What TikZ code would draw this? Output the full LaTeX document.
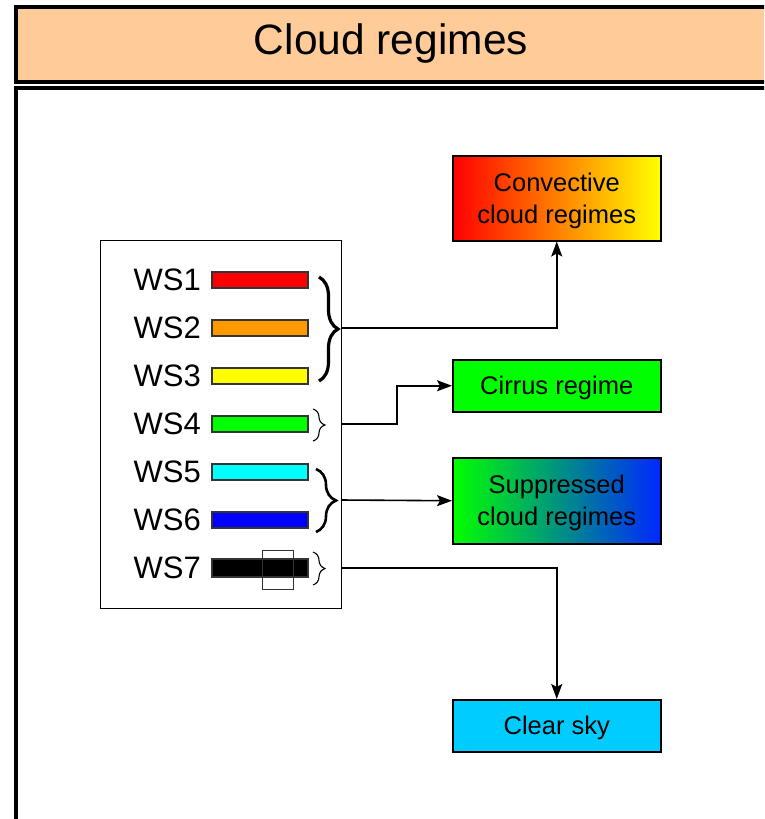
\documentclass[tikz,border=0pt]{standalone}
\usepackage{fontspec}
\setmainfont{Liberation Sans}
\usetikzlibrary{arrows.meta,decorations.pathreplacing,calc}
\begin{document}
\begin{tikzpicture}[x=1pt,y=-1pt,
  bar/.style={draw=black!80,line width=1.2pt,minimum width=96pt,minimum height=16pt,inner sep=0pt},
  wslabel/.style={anchor=east,font=\fontsize{31}{31}\selectfont,inner sep=0pt},
  regime/.style={draw=black,line width=1.5pt,minimum width=208pt,inner sep=0pt,align=center,text depth=0pt,font=\fontsize{25.5}{32}\selectfont},
  conn/.style={line width=1.6pt,-{Stealth[length=15pt,width=11pt,inset=3pt]}},
  bigbrace/.style={decorate,decoration={brace,amplitude=#1}},
]
\useasboundingbox (0,0) rectangle (764,819);
\clip (0,0) rectangle (764,819);
\fill[white] (0,0) rectangle (764,819);
% header
\node[draw=black,line width=3.5pt,fill={rgb,255:red,255;green,204;blue,153},minimum width=756pt,minimum height=75pt,anchor=north west,inner sep=0pt] (header) at (14,5) {};
\node[font=\fontsize{42.5}{42.5}\selectfont] (title) at (391,44) {Cloud regimes};
% main frame
\node[draw=black,line width=3.5pt,minimum width=780pt,minimum height=760pt,anchor=north west,inner sep=0pt] (frame) at (14,86) {};
% legend box
\node[draw=black,line width=1.2pt,minimum width=241pt,minimum height=368pt,anchor=north west,inner sep=0pt] (legend) at (100,240) {};
% bars
\node[bar,fill={rgb,255:red,255;green,0;blue,0}] (b1) at (260,280) {};
\node[bar,fill={rgb,255:red,255;green,153;blue,0}] (b2) at (260,328) {};
\node[bar,fill={rgb,255:red,255;green,255;blue,0}] (b3) at (260,376) {};
\node[bar,fill={rgb,255:red,0;green,255;blue,0}] (b4) at (260,424) {};
\node[bar,fill={rgb,255:red,0;green,255;blue,255}] (b5) at (260,472) {};
\node[bar,fill={rgb,255:red,0;green,0;blue,255}] (b6) at (260,520) {};
\node[bar,fill=black,minimum height=18pt] (b7) at (260,568) {};
\node[draw=black!80,line width=0.8pt,minimum width=31pt,minimum height=39pt,inner sep=0pt] (b7box) at (277.5,569.5) {};
% labels
\node[wslabel] (l1) at (201,280) {WS1};
\node[wslabel] (l2) at (201,328) {WS2};
\node[wslabel] (l3) at (201,376) {WS3};
\node[wslabel] (l4) at (201,424) {WS4};
\node[wslabel] (l5) at (201,472) {WS5};
\node[wslabel] (l6) at (201,520) {WS6};
\node[wslabel] (l7) at (201,568) {WS7};
% braces
\draw[bigbrace=19pt,line width=3.2pt] (319,277) -- (319,381);
\draw[bigbrace=12pt,line width=1.1pt] (313,409) -- (313,441);
\draw[bigbrace=20pt,line width=2.6pt] (316,469) -- (316,532);
\draw[bigbrace=12pt,line width=1.1pt] (313,552) -- (313,585);
\coordinate (t1) at (341,328);
\coordinate (t4) at (341,424);
\coordinate (t5) at (341,500);
\coordinate (t7) at (341,568);
% regime boxes
\node[regime,minimum height=85pt,left color={rgb,255:red,255;green,0;blue,0},right color={rgb,255:red,255;green,255;blue,0},anchor=north west] (conv) at (452,155) {Convective\\cloud regimes};
\node[regime,minimum height=52pt,fill={rgb,255:red,0;green,255;blue,0},anchor=north west] (cirrus) at (452,359) {Cirrus regime};
\node[regime,minimum height=86pt,left color={rgb,255:red,0;green,255;blue,0},right color={rgb,255:red,0;green,40;blue,255},anchor=north west] (supp) at (452,457) {Suppressed\\cloud regimes};
\node[regime,minimum height=52pt,fill={rgb,255:red,0;green,204;blue,255},anchor=north west] (clear) at (452,699) {Clear sky};
% connectors
\draw[conn] (t1) -| (conv.south);
\draw[conn] (t4) -- (397,424) |- (cirrus.west);
\draw[conn] (t5) -- (supp.west);
\draw[conn] (t7) -| (clear.north);
\end{tikzpicture}
\end{document}
